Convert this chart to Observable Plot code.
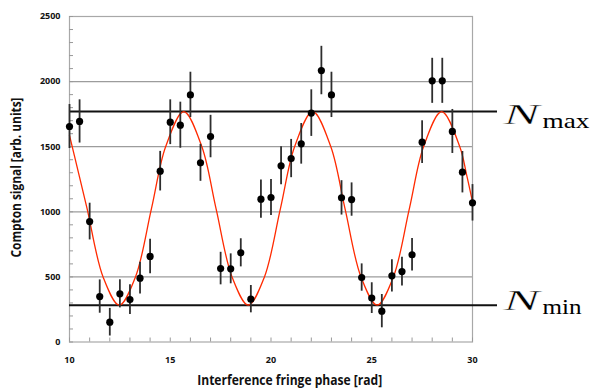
<!DOCTYPE html>
<html><head><meta charset="utf-8">
<script src="https://cdn.jsdelivr.net/npm/d3@7"></script>
<script src="https://cdn.jsdelivr.net/npm/@observablehq/plot@0.6"></script>
<style>body{margin:0;background:#fff}</style>
</head><body><div id="chart"></div>
<script>
// measured points
const phase = [10,10.5,11,11.5,12,12.5,13,13.5,14,14.5,15,15.5,16,16.5,17,17.5,18,18.5,19,19.5,20,20.5,21,21.5,22,22.5,23,23.5,24,24.5,25,25.5,26,26.5,27,27.5,28,28.5,29,29.5,30];
const signal = [1655,1694,925,349,152,370,326,490,657,1312,1688,1665,1898,1376,1578,564,562,685,329,1097,1110,1353,1409,1522,1758,2085,1898,1107,1094,495,337,237,508,541,670,1535,2006,2006,1617,1304,1069];
const signalErr = [169,166,141,128,106,108,114,122,133,152,172,177,174,142,163,125,115,108,105,147,138,146,147,156,179,186,174,132,128,105,118,128,124,110,124,164,173,173,169,159,140];
// fitted curve
const fitPhase = [10,10.4,10.87,11.67,12.47,13.27,14.07,14.77,15.67,16.57,17.27,18.07,18.87,19.67,20.47,21.17,22.07,22.97,23.67,24.47,25.27,26.07,26.87,27.57,28.47,29.37,29.7,30];
const fitSignal = [1587,1330,1026,498,283,498,1026,1499,1770,1499,1026,498,283,498,1026,1499,1770,1499,1026,498,283,498,1026,1499,1770,1499,1290,1077];
// reference levels
const nMax = 1770;
const nMin = 283;
// axes
const xTicks = [10,15,20,25,30];
const yTicks = [0,500,1000,1500,2000,2500];
const yGrid = [500,1000,1500,2000];
const xMinor = d3.range(10, 31, 1);
const yMinor = d3.range(0, 2501, 100);
const xLabel = "Interference fringe phase [rad]";
const yLabel = "Compton signal [arb. units]";

const points = phase.map((x, i) => ({x, y: signal[i], e: signalErr[i]}));
const fit = fitPhase.map((x, i) => ({x, y: fitSignal[i]}));

const font = "'Open Sans', sans-serif";
const serif = "'Liberation Serif', 'DejaVu Serif', serif";
const plain = d => String(d);
const thin = {stroke: "#fff", strokeWidth: 0.35, paintOrder: "normal"};

const chart = Plot.plot({
  width: 593, height: 390,
  marginLeft: 69, marginRight: 121, marginTop: 16, marginBottom: 48.5,
  x: {domain: [10, 30]},
  y: {domain: [0, 2500]},
  style: {fontFamily: font, background: "#fff", color: "#111"},
  marks: [
    Plot.gridY(yGrid, {stroke: "#9c9c9c", strokeOpacity: 1, strokeWidth: 1.2}),
    Plot.frame({stroke: "#a8a8a8", strokeWidth: 1.2}),
    Plot.axisY(yMinor, {tickSize: 4, dx: 4, tickFormat: () => "", label: null, stroke: "#999"}),
    Plot.axisX(xMinor, {tickSize: 4, dy: -4, tickFormat: () => "", label: null, stroke: "#999"}),
    Plot.axisY(yTicks, {tickSize: 0, tickPadding: 9, tickFormat: plain, label: null, fontSize: 9, fontWeight: "bold", fill: "#111"}),
    Plot.axisX(xTicks, {tickSize: 0, tickPadding: 15, tickFormat: plain, label: null, fontSize: 9, fontWeight: "bold", fill: "#111"}),
    Plot.ruleY([nMax, nMin], {stroke: "#111", strokeWidth: 2, insetRight: -25}),
    Plot.line(fit, {x: "x", y: "y", curve: "catmull-rom", stroke: "#ff2a00", strokeWidth: 1.3}),
    Plot.ruleX(points, {x: "x", y1: d => d.y - d.e, y2: d => d.y + d.e, stroke: "#2e2e2e", strokeWidth: 1.8}),
    Plot.dot(points, {x: "x", y: "y", r: 3.6, fill: "#000", stroke: null}),
    Plot.text([yLabel], {frameAnchor: "left", rotate: -90, dx: -48.5, dy: -1.75, textAnchor: "middle", lineAnchor: "bottom", fontSize: 13.5, fontWeight: "bold", fill: "#111"}),
    Plot.text([xLabel], {frameAnchor: "bottom", dx: 18.7, dy: 43, textAnchor: "middle", lineAnchor: "bottom", fontSize: 13.5, fontWeight: "bold", fill: "#111"}),
    Plot.text([nMax], {y: d => d, text: () => "N", frameAnchor: "right", dx: 31, dy: 12.3, textAnchor: "start", lineAnchor: "bottom", fontFamily: serif, fontStyle: "italic", fontSize: 30, fill: "#000", ...thin}),
    Plot.text([nMin], {y: d => d, text: () => "N", frameAnchor: "right", dx: 31, dy: 5.3, textAnchor: "start", lineAnchor: "bottom", fontFamily: serif, fontStyle: "italic", fontSize: 30, fill: "#000", ...thin}),
    Plot.text([nMax], {y: d => d, text: () => "max", frameAnchor: "right", dx: 70, dy: 16, textAnchor: "start", lineAnchor: "bottom", fontFamily: serif, fontSize: 22, fill: "#000"}),
    Plot.text([nMin], {y: d => d, text: () => "min", frameAnchor: "right", dx: 70, dy: 9, textAnchor: "start", lineAnchor: "bottom", fontFamily: serif, fontSize: 22, fill: "#000"})
  ]
});
document.getElementById("chart").appendChild(chart);

// fit text widths to the reference
const fitWidth = {[xLabel]: 185, [yLabel]: 160, "N": 36, "max": 47, "min": 39};
d3.select(chart).selectAll("text").each(function() {
  const w = fitWidth[this.textContent];
  if (w) { this.setAttribute("textLength", w); this.setAttribute("lengthAdjust", "spacingAndGlyphs"); }
});
</script>
</body></html>
